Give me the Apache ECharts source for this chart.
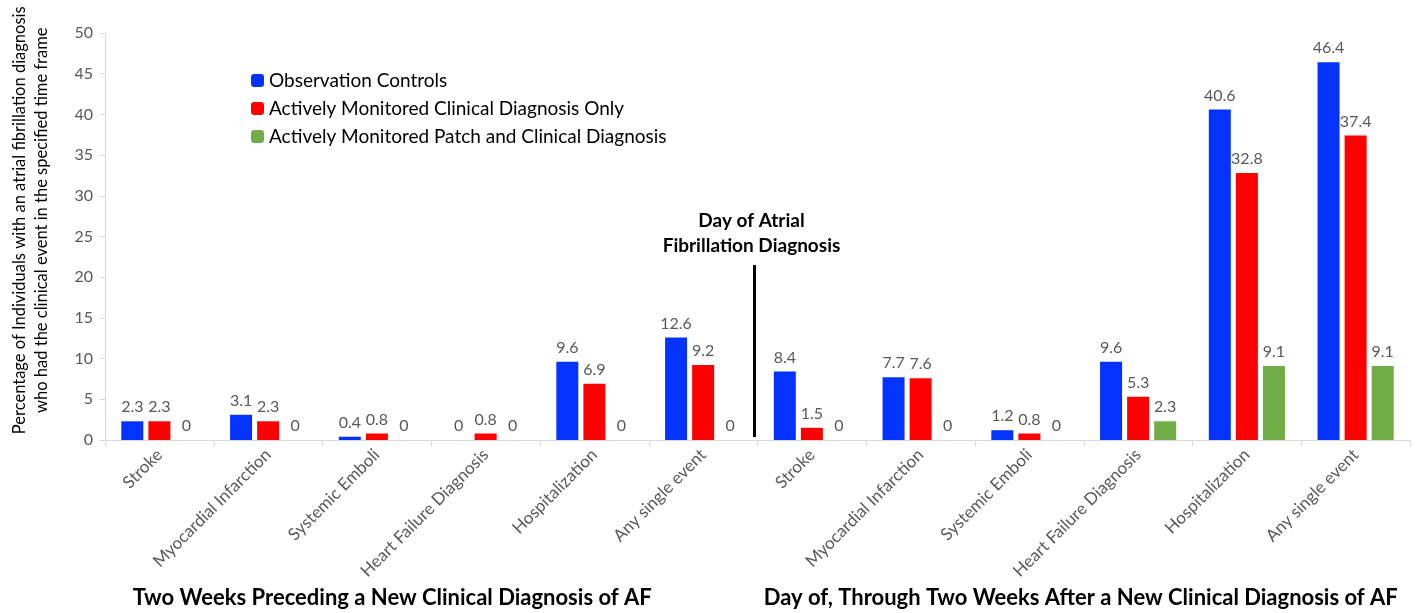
<!DOCTYPE html>
<html>
<head>
<meta charset="utf-8">
<script src="https://cdn.jsdelivr.net/npm/echarts@6/dist/echarts.min.js"></script>
<style>html,body{margin:0;padding:0;background:#fff;}#c{width:1419px;height:613px;}</style>
</head>
<body>
<div id="c"></div>
<script>
const categories = ['Stroke','Myocardial Infarction','Systemic Emboli','Heart Failure Diagnosis','Hospitalization','Any single event',
                    'Stroke','Myocardial Infarction','Systemic Emboli','Heart Failure Diagnosis','Hospitalization','Any single event'];
const seriesNames = ['Observation Controls','Actively Monitored Clinical Diagnosis Only','Actively Monitored Patch and Clinical Diagnosis'];
const observationControls = [2.3, 3.1, 0.4, 0, 9.6, 12.6, 8.4, 7.7, 1.2, 9.6, 40.6, 46.4];
const clinicalOnly        = [2.3, 2.3, 0.8, 0.8, 6.9, 9.2, 1.5, 7.6, 0.8, 5.3, 32.8, 37.4];
const patchAndClinical    = [0, 0, 0, 0, 0, 0, 0, 0, 0, 2.3, 9.1, 9.1];
const colors = ['#0433ff', '#ff0000', '#70ad47'];
const yTitle = 'Percentage of Individuals with an atrial fibrillation diagnosis\nwho had the clinical event in the specified time frame';
const leftTitle = 'Two Weeks Preceding a New Clinical Diagnosis of AF';
const rightTitle = 'Day of, Through Two Weeks After a New Clinical Diagnosis of AF';
const dividerTitle = 'Day of Atrial\nFibrillation Diagnosis';

const FONT = 'Lato';
const chart = echarts.init(document.getElementById('c'), null, {renderer: 'canvas'});
function mkSeries(name, data, color) {
  return {
    name: name, type: 'bar', data: data, barWidth: 22, barGap: '23%',
    itemStyle: {color: color},
    label: {show: true, position: 'top', distance: 6, color: '#595959', fontFamily: FONT, fontSize: 16}
  };
}
chart.setOption({
  animation: false,
  textStyle: {fontFamily: FONT},
  grid: {left: 105, right: 9, top: 33, bottom: 173, containLabel: false},
  legend: {
    orient: 'vertical', left: 246, top: 66, itemWidth: 13, itemHeight: 13, itemGap: 9,
    textStyle: {fontFamily: FONT, fontSize: 19, color: '#000'},
    data: seriesNames
  },
  xAxis: {
    type: 'category', data: categories,
    axisLine: {lineStyle: {color: '#d9d9d9', width: 1}},
    axisTick: {show: true, alignWithLabel: false, length: 6, lineStyle: {color: '#d9d9d9'}},
    axisLabel: {interval: 0, rotate: 45, margin: 12, color: '#595959', fontFamily: FONT, fontSize: 17}
  },
  yAxis: {
    type: 'value', min: 0, max: 50, interval: 5,
    axisLine: {show: true, lineStyle: {color: '#d9d9d9'}},
    axisTick: {show: true, length: 5, lineStyle: {color: '#d9d9d9'}},
    splitLine: {show: false},
    axisLabel: {color: '#595959', fontFamily: FONT, fontSize: 16, margin: 12}
  },
  series: [
    mkSeries(seriesNames[0], observationControls, colors[0]),
    mkSeries(seriesNames[1], clinicalOnly, colors[1]),
    mkSeries(seriesNames[2], patchAndClinical, colors[2])
  ]
});

const x5 = chart.convertToPixel({xAxisIndex: 0}, 5);
const x6 = chart.convertToPixel({xAxisIndex: 0}, 6);
const xDiv = (x5 + x6) / 2 - 3;
const x0 = chart.convertToPixel({xAxisIndex: 0}, 0);
const x11 = chart.convertToPixel({xAxisIndex: 0}, 11);
const yBase = chart.convertToPixel({yAxisIndex: 0}, 0);
const yTop = chart.convertToPixel({yAxisIndex: 0}, 21.5);
const yMid = chart.convertToPixel({yAxisIndex: 0}, 27.0);

chart.setOption({
  graphic: [
    {type: 'line', shape: {x1: xDiv, y1: yTop, x2: xDiv, y2: yBase - 3}, style: {stroke: '#000', lineWidth: 3}, z: 10},
    {type: 'text', x: xDiv - 3, y: yTop - 57, style: {text: dividerTitle, font: 'bold 19px ' + FONT, fill: '#000', textAlign: 'center', lineHeight: 25}},
    {type: 'text', x: 31, y: yMid, rotation: Math.PI / 2, style: {text: yTitle, font: '16.5px ' + FONT, fill: '#000', textAlign: 'center', textVerticalAlign: 'middle', lineHeight: 22}},
    {type: 'text', x: (x0 + x5) / 2 - 39, y: 587, style: {text: leftTitle, font: 'bold 22px ' + FONT, fill: '#000', textAlign: 'center'}},
    {type: 'text', x: (x6 + x11) / 2 - 3, y: 587, style: {text: rightTitle, font: 'bold 22px ' + FONT, fill: '#000', textAlign: 'center'}}
  ]
});
</script>
</body>
</html>
